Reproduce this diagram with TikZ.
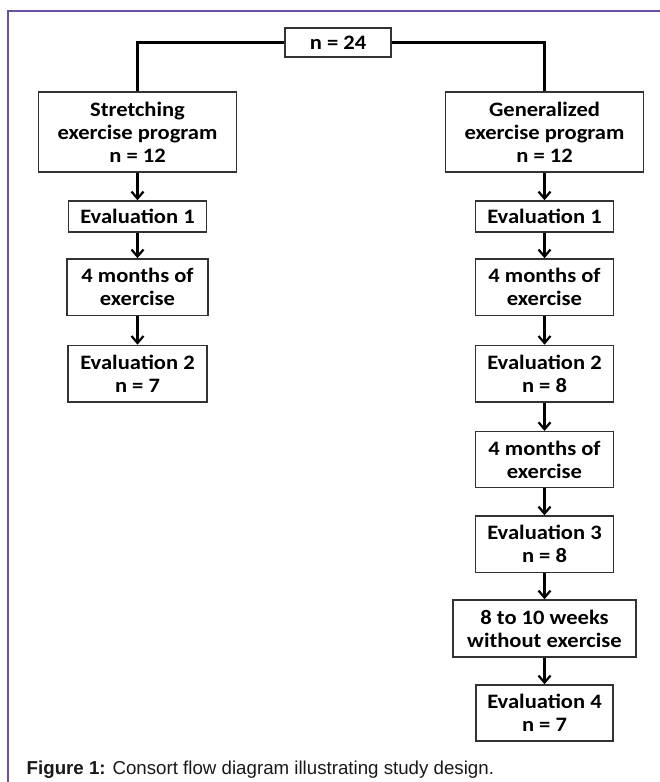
\documentclass[tikz,border=0pt]{standalone}
\usepackage{fontspec}
\setmainfont{Liberation Sans}
\newfontfamily\boxfont[FakeStretch=1.1]{Carlito}
\usetikzlibrary{arrows.meta}
\definecolor{frameviolet}{RGB}{105,80,165}
\definecolor{boxgray}{RGB}{50,50,50}
\definecolor{captext}{RGB}{25,25,25}
\begin{document}
\begin{tikzpicture}[x=1pt,y=-1pt,
  box/.style={draw=boxgray, line width=1.5pt, fill=white, inner sep=0pt, align=center,
    font=\boxfont\bfseries\fontsize{20.5}{23}\selectfont, text=black},
  conn/.style={line width=2.4pt, black},
  arr/.style={conn, -{Straight Barb[length=7pt,width=12pt,line width=2.2pt]}}]
\useasboundingbox (0,0) rectangle (660,782);
\fill[white] (0,0) rectangle (660,782);
\draw[frameviolet, line width=1.6pt] (660,11) -- (8,11) -- (8,782);

\node[box, minimum width=106pt, minimum height=29pt] (top) at (338,42.5) {n = 24};
\node[box, minimum width=198pt, minimum height=80pt] (S) at (137.5,132) {Stretching\\exercise program\\n = 12};
\node[box, minimum width=198pt, minimum height=80pt] (G) at (544.5,132) {Generalized\\exercise program\\n = 12};

\node[box, minimum width=138pt, minimum height=31pt] (L1) at (137.5,216.5) {Evaluation 1};
\node[box, minimum width=141pt, minimum height=56.5pt] (L2) at (137.5,287.2) {4 months of\\exercise};
\node[box, minimum width=139pt, minimum height=56.5pt] (L3) at (137.5,373.7) {Evaluation 2\\n = 7};

\node[box, minimum width=138pt, minimum height=31pt] (R1) at (544.5,216.5) {Evaluation 1};
\node[box, minimum width=138pt, minimum height=56.5pt] (R2) at (544.5,287.2) {4 months of\\exercise};
\node[box, minimum width=138pt, minimum height=56.5pt] (R3) at (544.5,373.7) {Evaluation 2\\n = 8};
\node[box, minimum width=138pt, minimum height=56pt] (R4) at (544.5,459.7) {4 months of\\exercise};
\node[box, minimum width=138pt, minimum height=56.5pt] (R5) at (544.5,544.3) {Evaluation 3\\n = 8};
\node[box, minimum width=183pt, minimum height=57pt] (R6) at (544.5,628.5) {8 to 10 weeks\\without exercise};
\node[box, minimum width=137pt, minimum height=56pt] (R7) at (544.5,713) {Evaluation 4\\n = 7};

\draw[conn] (top.west) -| (S.north);
\draw[conn] (top.east) -| (G.north);

\draw[arr] (S) -- (L1);
\draw[arr] (L1) -- (L2);
\draw[arr] (L2) -- (L3);

\draw[arr] (G) -- (R1);
\draw[arr] (R1) -- (R2);
\draw[arr] (R2) -- (R3);
\draw[arr] (R3) -- (R4);
\draw[arr] (R4) -- (R5);
\draw[arr] (R5) -- (R6);
\draw[arr] (R6) -- (R7);

\node[anchor=base west, inner sep=0pt, text=captext, font=\fontsize{18.7}{22}\selectfont] (cap) at (26.5,774)
  {\textbf{Figure 1:} Consort flow diagram illustrating study design.};
\end{tikzpicture}
\end{document}
